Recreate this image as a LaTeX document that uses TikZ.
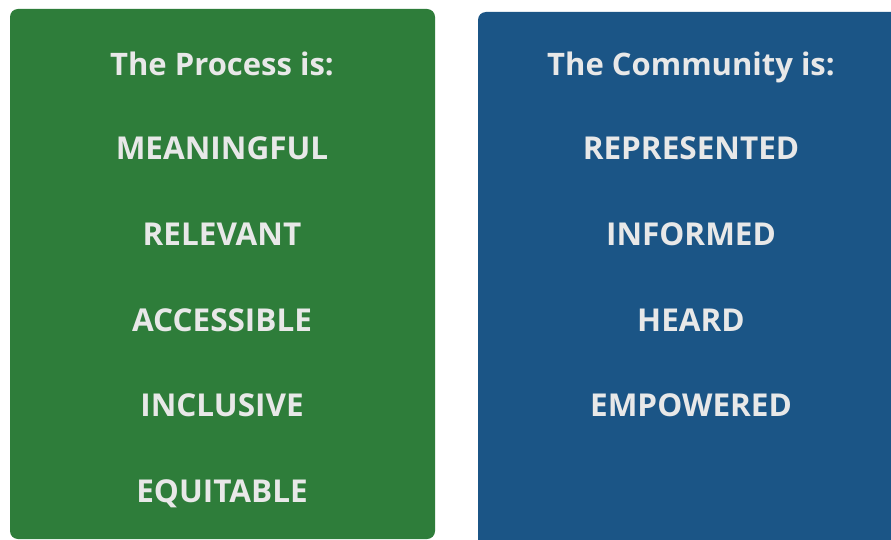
\documentclass[tikz,border=0pt]{standalone}
\usepackage{fontspec}
\setmainfont{Open Sans}
\definecolor{procgreen}{HTML}{2E7D3A}
\definecolor{commblue}{HTML}{1B5586}
\definecolor{lighttext}{HTML}{E8E8E8}
\tikzset{
    panel/.style = {rounded corners = 8pt},
    heading/.style = {text = lighttext, anchor = base, font = \fontsize{31}{31}\selectfont\bfseries},
    item/.style = {text = lighttext, anchor = base, font = \fontsize{31.5}{31.5}\selectfont\bfseries}
}
\begin{document}
\begin{tikzpicture}[x = 1pt, y = -1pt]
    \useasboundingbox (0, 0) rectangle (891, 540);
    \clip (0, 0) rectangle (891, 540);
    \fill[white] (0, 0) rectangle (891, 540);
    \fill[procgreen, panel] (10, 9) rectangle (435, 539);
    \fill[commblue, panel] (478, 12) rectangle (910, 560);
    \node[heading] (proc) at (222, 76) {The Process is:};
    \node[heading] (comm) at (691, 76) {The Community is:};
    \foreach \word [count = \i] in {MEANINGFUL, RELEVANT, ACCESSIBLE, INCLUSIVE, EQUITABLE}
    \node[item] (proc\i) at (222, 74.5 + 85.5*\i) {\word};
    \foreach \word [count = \i] in {REPRESENTED, INFORMED, HEARD, EMPOWERED}
    \node[item] (comm\i) at (691, 74.5 + 85.5*\i) {\word};
\end{tikzpicture}
\end{document}
